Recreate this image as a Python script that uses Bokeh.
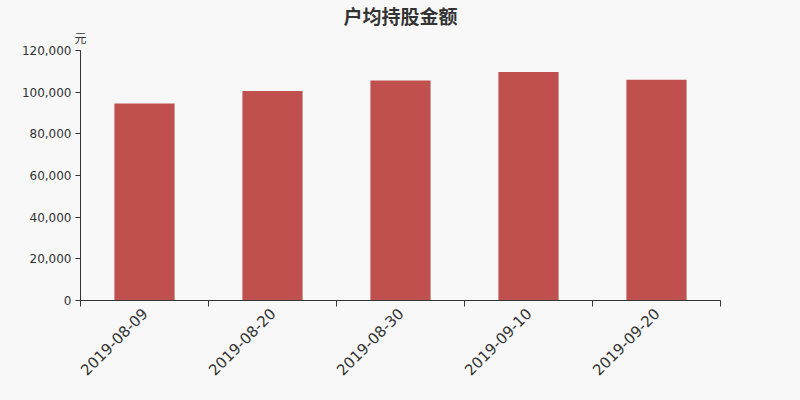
import math
from bokeh.plotting import figure
from bokeh.models import Range1d, FixedTicker, NumeralTickFormatter, Title, ColumnDataSource
from bokeh.embed import file_html
from bokeh.resources import INLINE

dates = ["2019-08-09", "2019-08-20", "2019-08-30", "2019-09-10", "2019-09-20"]
values = [94600, 100600, 105600, 109700, 106000]
y_ticks = [0, 20000, 40000, 60000, 80000, 100000, 120000]
title_text = "户均持股金额"
unit_text = "元"

BG = "#f8f8f8"
TXT = "#333333"
BAR = "#c0504d"

n = len(dates)
centers = [i + 0.5 for i in range(n)]
bounds = [float(i) for i in range(n + 1)]

p = figure(width=784, height=384, output_backend="svg", toolbar_location=None,
           x_range=Range1d(0, n), y_range=Range1d(y_ticks[0], y_ticks[-1]),
           min_border_left=80, min_border_right=64, min_border_top=50, min_border_bottom=84)
p.background_fill_color = BG
p.border_fill_color = BG
p.outline_line_color = None
p.grid.visible = False

src = ColumnDataSource(dict(x=centers, top=values))
p.vbar(x="x", top="top", width=0.47, bottom=0, source=src, fill_color=BAR, line_color=None)

# x axis: labels at centres, ticks at boundaries
xa = p.xaxis[0]
xa.ticker = FixedTicker(ticks=centers, minor_ticks=bounds)
xa.major_label_overrides = {c: d for c, d in zip(centers, dates)}
xa.major_tick_out = 0
xa.major_tick_in = 0
xa.minor_tick_out = 6
xa.minor_tick_in = 0
xa.minor_tick_line_color = TXT
xa.axis_line_color = TXT
xa.major_label_orientation = math.pi / 4
xa.major_label_text_font = "DejaVu Sans"
xa.major_label_text_font_size = "15px"
xa.major_label_text_color = TXT
xa.major_label_standoff = 4

ya = p.yaxis[0]
ya.ticker = FixedTicker(ticks=y_ticks, minor_ticks=[])
ya.formatter = NumeralTickFormatter(format="0,0")
ya.major_tick_out = 5
ya.major_tick_in = 0
ya.minor_tick_line_color = None
ya.axis_line_color = TXT
ya.major_tick_line_color = TXT
ya.major_label_text_font = "DejaVu Sans"
ya.major_label_text_font_size = "12px"
ya.major_label_text_color = TXT
ya.major_label_standoff = 4

# main title (outermost)
p.title.text = title_text
p.title.align = "center"
p.title.text_font = "Noto Sans CJK SC"
p.title.text_font_size = "19px"
p.title.text_font_style = "bold"
p.title.text_color = TXT
p.title.standoff = -6

# unit label (closest to the frame)
p.add_layout(Title(text=unit_text, align="left", offset=-6, text_font="Noto Sans CJK SC",
                   text_font_size="12px", text_font_style="normal", text_color=TXT,
                   standoff=6, vertical_align="top"), "above")

html = file_html(p, INLINE)
html = html.replace("</head>", "<style>body{background:#f8f8f8;}</style></head>", 1)
open("out.html", "w").write(html)
